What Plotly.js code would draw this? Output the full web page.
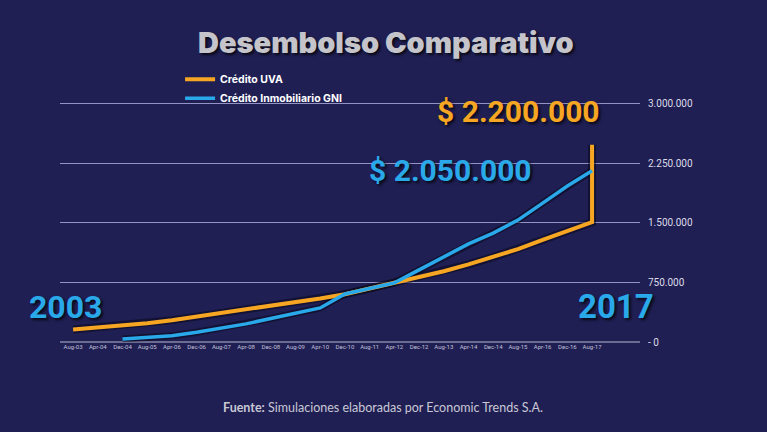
<!DOCTYPE html>
<html>
<head>
<meta charset="utf-8">
<script src="https://cdn.plot.ly/plotly-3.0.1.min.js"></script>
<style>
  html, body { margin: 0; padding: 0; background: #201f54; }
  #chart { width: 767px; height: 432px; }
</style>
</head>
<body>
<div id="chart"></div>
<script>
// Month labels along the x axis (every 8 months)
const months = ["Aug-03","Apr-04","Dec-04","Aug-05","Apr-06","Dec-06","Aug-07","Apr-08",
  "Dec-08","Aug-09","Apr-10","Dec-10","Aug-11","Apr-12","Dec-12","Aug-13","Apr-14",
  "Dec-14","Aug-15","Apr-16","Dec-16","Aug-17"];

// Crédito UVA (last point repeated at Aug-17: the final jump)
const uvaX = months.concat(["Aug-17"]);
const uvaValues = [158000, 184000, 209000, 237000, 275000, 319000, 362000, 408000,
  454000, 500000, 548000, 601000, 673000, 744000, 818000, 890000, 977000,
  1068000, 1169000, 1285000, 1398000, 1508000, 2483000];

// Crédito Inmobiliario GNI (starts Dec-04)
const gniX = months.slice(2);
const gniValues = [38000, 58000, 79000, 122000, 174000, 228000, 296000, 363000,
  429000, 605000, 673000, 744000, 908000, 1065000, 1234000, 1370000, 1534000,
  1748000, 1963000, 2156000];

// Y axis ticks
const yTickVals = [0, 750000, 1500000, 2250000, 3000000];
const yTickText = ["- 0", "750.000", "1.500.000", "2.250.000", "3.000.000"];

const orange = "#f6a623";
const blue = "#2aa9ea";

const traces = [
  { x: gniX, y: gniValues, type: "scatter", mode: "lines", showlegend: false, hoverinfo: "skip",
    line: { color: "rgba(5,5,20,0.5)", width: 7 } },
  { x: uvaX, y: uvaValues, type: "scatter", mode: "lines", showlegend: false, hoverinfo: "skip",
    line: { color: "rgba(5,5,20,0.5)", width: 8 } },
  { x: uvaX, y: uvaValues, type: "scatter", mode: "lines", name: "Crédito UVA",
    line: { color: orange, width: 4 } },
  { x: gniX, y: gniValues, type: "scatter", mode: "lines", name: "Crédito Inmobiliario GNI",
    line: { color: blue, width: 3.5 } }
];

const shadow = "2px 2px 3px rgba(0,0,0,0.75)";

const layout = {
  width: 767, height: 432,
  paper_bgcolor: "#201f54", plot_bgcolor: "#201f54",
  margin: { l: 60, r: 127, t: 102, b: 90 },
  title: {
    text: "Desembolso Comparativo",
    x: 0.503, xref: "container", xanchor: "center",
    y: 0.9, yref: "container", yanchor: "middle",
    font: { family: "Inter, 'Open Sans', sans-serif", size: 29, weight: 900, color: "#c4c4ca", shadow: shadow }
  },
  showlegend: true,
  legend: {
    x: 0.207, xanchor: "left", xref: "paper",
    y: 1.155, yanchor: "top", yref: "paper",
    bgcolor: "rgba(0,0,0,0)", itemwidth: 30, tracegroupgap: 0,
    font: { family: "Inter, 'Open Sans', sans-serif", size: 10.5, weight: 700, color: "#ffffff" }
  },
  xaxis: {
    type: "category", categoryorder: "array", categoryarray: months,
    range: [-0.53, 22.94],
    tickangle: 0, showgrid: false, zeroline: false,
    showline: false, ticks: "",
    tickfont: { family: "Roboto, sans-serif", size: 6, color: "#c0c0d8" },
    fixedrange: true
  },
  yaxis: {
    side: "right", range: [0, 3020000],
    tickvals: yTickVals, ticktext: yTickText,
    ticks: "outside", ticklen: 5, tickcolor: "rgba(0,0,0,0)",
    showgrid: true, gridcolor: "#9494c4", gridwidth: 1.3,
    zeroline: true, zerolinecolor: "#6c6c92", zerolinewidth: 2,
    showline: false,
    tickfont: { family: "Roboto, sans-serif", size: 10, color: "#dcdce8" },
    fixedrange: true
  },
  annotations: [
    { text: "$ 2.200.000", xref: "paper", yref: "paper", x: 0.791, y: 0.962,
      xanchor: "center", yanchor: "middle", showarrow: false,
      font: { family: "Roboto, sans-serif", size: 30, weight: 700, color: orange, shadow: shadow } },
    { text: "$ 2.050.000", xref: "paper", yref: "paper", x: 0.674, y: 0.714,
      xanchor: "center", yanchor: "middle", showarrow: false,
      font: { family: "Roboto, sans-serif", size: 30, weight: 700, color: blue, shadow: shadow } },
    { text: "2003", xref: "paper", yref: "paper", x: 0.01, y: 0.147,
      xanchor: "center", yanchor: "middle", showarrow: false,
      font: { family: "Roboto, sans-serif", size: 32, weight: 700, color: blue, shadow: shadow } },
    { text: "2017", xref: "paper", yref: "paper", x: 0.958, y: 0.147,
      xanchor: "center", yanchor: "middle", showarrow: false,
      font: { family: "Roboto, sans-serif", size: 33, weight: 700, color: blue, shadow: shadow } },
    { text: "<b>Fuente:</b> Simulaciones elaboradas por Economic Trends S.A.",
      xref: "paper", yref: "paper", x: 0.557, y: -0.273,
      xanchor: "center", yanchor: "middle", showarrow: false,
      font: { family: "Lato, sans-serif", size: 12.5, color: "#c8c8d4" } }
  ],
  hovermode: false
};

Plotly.newPlot("chart", traces, layout, { displayModeBar: false, staticPlot: true });
</script>
</body>
</html>
